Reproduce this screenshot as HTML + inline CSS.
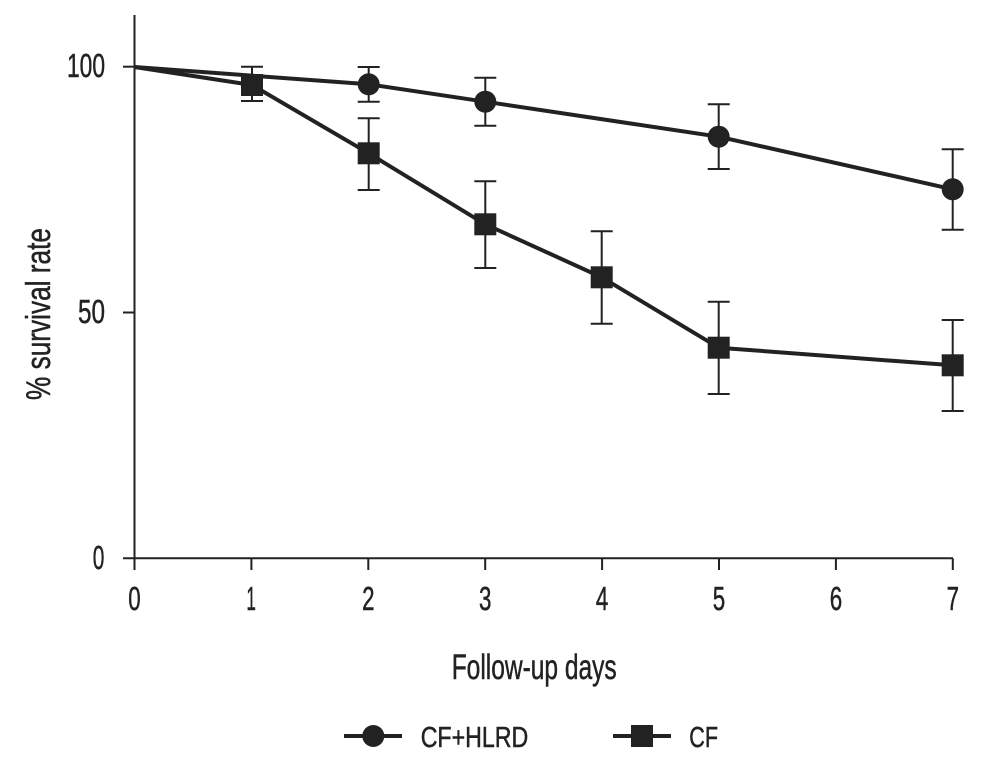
<!DOCTYPE html>
<html>
<head>
<meta charset="utf-8">
<style>
  html,body{margin:0;padding:0;background:#fff;}
  svg{display:block;}
  text{font-family:"Liberation Sans Narrow","Liberation Sans",sans-serif;fill:#222;stroke:#222;stroke-width:0.5;}
</style>
</head>
<body>
<svg width="1007" height="776" viewBox="0 0 1007 776" xmlns="http://www.w3.org/2000/svg">
  <!-- axes -->
  <g stroke="#222" stroke-width="2" fill="none">
    <line x1="134.5" y1="15" x2="134.5" y2="570"/>
    <line x1="123" y1="558.3" x2="953" y2="558.3"/>
    <line x1="123" y1="66.7" x2="134.5" y2="66.7"/>
    <line x1="123" y1="312.5" x2="134.5" y2="312.5"/>
    <line x1="251.4" y1="558.3" x2="251.4" y2="570"/>
    <line x1="368.3" y1="558.3" x2="368.3" y2="570"/>
    <line x1="485.2" y1="558.3" x2="485.2" y2="570"/>
    <line x1="602.1" y1="558.3" x2="602.1" y2="570"/>
    <line x1="719" y1="558.3" x2="719" y2="570"/>
    <line x1="835.9" y1="558.3" x2="835.9" y2="570"/>
    <line x1="952.8" y1="558.3" x2="952.8" y2="570"/>
  </g>

  <!-- y tick labels -->
  <g font-size="33">
    <text x="67" y="77" textLength="38" lengthAdjust="spacingAndGlyphs">100</text>
    <text x="78" y="323" textLength="27" lengthAdjust="spacingAndGlyphs">50</text>
    <text x="92.7" y="569" textLength="11.6" lengthAdjust="spacingAndGlyphs">0</text>
  </g>

  <!-- x tick labels -->
  <g font-size="33">
    <text x="128.3" y="610" textLength="12.4" lengthAdjust="spacingAndGlyphs">0</text>
    <text x="246.4" y="610" textLength="9.5" lengthAdjust="spacingAndGlyphs">1</text>
    <text x="362.1" y="610" textLength="12.4" lengthAdjust="spacingAndGlyphs">2</text>
    <text x="479" y="610" textLength="12.4" lengthAdjust="spacingAndGlyphs">3</text>
    <text x="595.9" y="610" textLength="12.4" lengthAdjust="spacingAndGlyphs">4</text>
    <text x="712.8" y="610" textLength="12.4" lengthAdjust="spacingAndGlyphs">5</text>
    <text x="829.7" y="610" textLength="12.4" lengthAdjust="spacingAndGlyphs">6</text>
    <text x="946.6" y="610" textLength="12.4" lengthAdjust="spacingAndGlyphs">7</text>
  </g>

  <!-- axis titles -->
  <text x="451.7" y="679" font-size="35" textLength="165" lengthAdjust="spacingAndGlyphs">Follow-up days</text>
  <text transform="translate(50,314) rotate(-90)" x="0" y="0" font-size="34" text-anchor="middle" textLength="172" lengthAdjust="spacingAndGlyphs">% survival rate</text>

  <!-- error bars -->
  <g stroke="#222" stroke-width="2" fill="none">
    <path d="M368.7 67V101.7M357.7 67H379.7M357.7 101.7H379.7"/>
    <path d="M485.3 77.7V125.7M474.3 77.7H496.3M474.3 125.7H496.3"/>
    <path d="M718.7 104.3V169M707.7 104.3H729.7M707.7 169H729.7"/>
    <path d="M952.7 149.3V229.7M941.7 149.3H963.7M941.7 229.7H963.7"/>
    <path d="M252 66.7V101M241 66.7H263M241 101H263"/>
    <path d="M368.7 118.3V190M357.7 118.3H379.7M357.7 190H379.7"/>
    <path d="M485.3 181.3V268M474.3 181.3H496.3M474.3 268H496.3"/>
    <path d="M601.7 231.3V323.7M590.7 231.3H612.7M590.7 323.7H612.7"/>
    <path d="M718.7 301.7V394M707.7 301.7H729.7M707.7 394H729.7"/>
    <path d="M952.7 320V411M941.7 320H963.7M941.7 411H963.7"/>
  </g>

  <!-- series lines -->
  <g stroke="#222" stroke-width="4" fill="none" stroke-linejoin="round">
    <polyline points="134.5,67 368.7,84.3 485.3,101.7 718.7,136.7 952.7,189.3"/>
    <polyline points="134.5,67 252,85 368.7,153.3 485.3,224.3 601.7,277.3 718.7,347.7 952.7,365.3"/>
  </g>

  <!-- markers -->
  <g fill="#222">
    <circle cx="368.7" cy="84.3" r="11"/>
    <circle cx="485.3" cy="101.7" r="11"/>
    <circle cx="718.7" cy="136.7" r="11"/>
    <circle cx="952.7" cy="189.3" r="11"/>
    <rect x="241" y="74" width="22" height="22"/>
    <rect x="357.7" y="142.3" width="22" height="22"/>
    <rect x="474.3" y="213.3" width="22" height="22"/>
    <rect x="590.7" y="266.3" width="22" height="22"/>
    <rect x="707.7" y="336.7" width="22" height="22"/>
    <rect x="941.7" y="354.3" width="22" height="22"/>
  </g>

  <!-- legend -->
  <g stroke="#222" stroke-width="4">
    <line x1="344" y1="736" x2="402" y2="736"/>
    <line x1="613" y1="736" x2="671" y2="736"/>
  </g>
  <circle cx="373.3" cy="736" r="11" fill="#222"/>
  <rect x="631" y="725" width="22" height="22" fill="#222"/>
  <text x="420.7" y="747" font-size="29" textLength="107.6" lengthAdjust="spacingAndGlyphs">CF+HLRD</text>
  <text x="689.3" y="747" font-size="29" textLength="28.7" lengthAdjust="spacingAndGlyphs">CF</text>
</svg>
</body>
</html>
